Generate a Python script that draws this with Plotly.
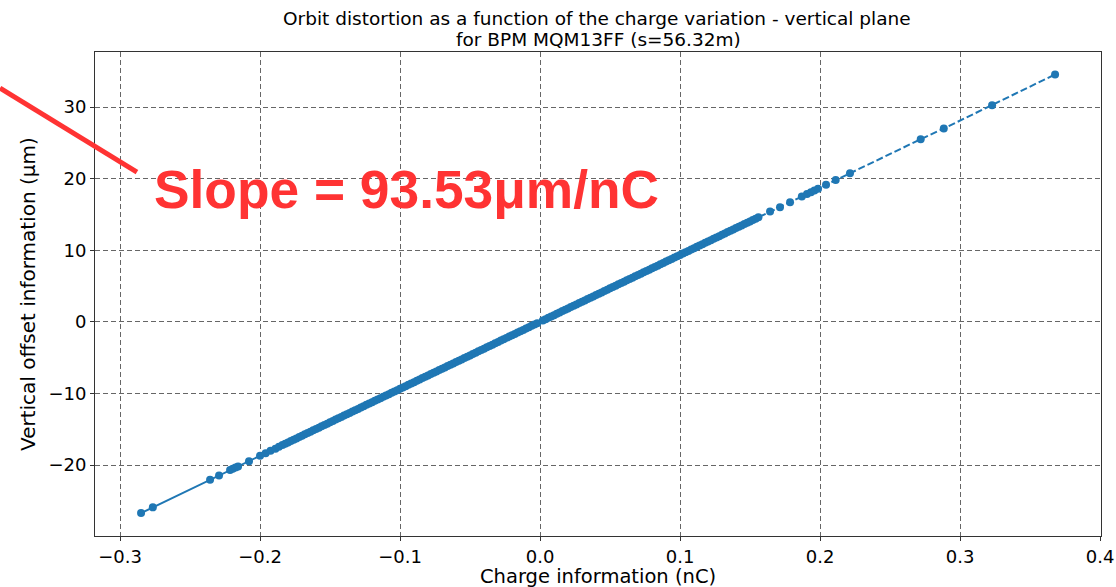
import plotly.graph_objects as go

# Negative charge side (solid line)
x_neg = [-0.285, -0.2766, -0.2357, -0.2293, -0.2214, -0.2195, -0.2175, -0.2157, -0.2079,
         -0.2000, -0.1960, -0.1925, -0.1890, -0.1865,
         -0.184, -0.182, -0.180, -0.178, -0.176, -0.174, -0.172, -0.170, -0.168, -0.166,
         -0.164, -0.162, -0.160, -0.158, -0.156, -0.154, -0.152, -0.150, -0.148, -0.146,
         -0.144, -0.142, -0.140, -0.138, -0.136, -0.134, -0.132, -0.130, -0.128, -0.126,
         -0.124, -0.122, -0.120, -0.118, -0.116, -0.114, -0.112, -0.110, -0.108, -0.106,
         -0.104, -0.102, -0.100, -0.098, -0.096, -0.094, -0.092, -0.090, -0.088, -0.086,
         -0.084, -0.082, -0.080, -0.078, -0.076, -0.074, -0.072, -0.070, -0.068, -0.066,
         -0.064, -0.062, -0.060, -0.058, -0.056, -0.054, -0.052, -0.050, -0.048, -0.046,
         -0.044, -0.042, -0.040, -0.038, -0.036, -0.034, -0.032, -0.030, -0.028, -0.026,
         -0.024, -0.022, -0.020, -0.018, -0.016, -0.014, -0.012, -0.010, -0.008, -0.006,
         -0.004, -0.002]
y_neg = [-26.7, -25.9, -22.05, -21.45, -20.7, -20.5, -20.35, -20.2, -19.45,
         -18.7, -18.35, -18.0, -17.7, -17.45,
         -17.20, -17.02, -16.83, -16.64, -16.46, -16.27, -16.08, -15.90, -15.71, -15.52,
         -15.33, -15.15, -14.96, -14.77, -14.59, -14.40, -14.21, -14.03, -13.84, -13.65,
         -13.46, -13.28, -13.09, -12.90, -12.72, -12.53, -12.34, -12.16, -11.97, -11.78,
         -11.59, -11.41, -11.22, -11.03, -10.85, -10.66, -10.47, -10.29, -10.10, -9.91,
         -9.72, -9.54, -9.35, -9.16, -8.98, -8.79, -8.60, -8.42, -8.23, -8.04,
         -7.85, -7.67, -7.48, -7.29, -7.11, -6.92, -6.73, -6.55, -6.36, -6.17,
         -5.98, -5.80, -5.61, -5.42, -5.24, -5.05, -4.86, -4.68, -4.49, -4.30,
         -4.11, -3.93, -3.74, -3.55, -3.37, -3.18, -2.99, -2.81, -2.62, -2.43,
         -2.24, -2.06, -1.87, -1.68, -1.50, -1.31, -1.12, -0.94, -0.75, -0.56,
         -0.37, -0.19]

# Positive charge side (dashed line)
x_pos = [0.002, 0.004, 0.006, 0.008, 0.010, 0.012, 0.014, 0.016, 0.018, 0.020,
         0.022, 0.024, 0.026, 0.028, 0.030, 0.032, 0.034, 0.036, 0.038, 0.040,
         0.042, 0.044, 0.046, 0.048, 0.050, 0.052, 0.054, 0.056, 0.058, 0.060,
         0.062, 0.064, 0.066, 0.068, 0.070, 0.072, 0.074, 0.076, 0.078, 0.080,
         0.082, 0.084, 0.086, 0.088, 0.090, 0.092, 0.094, 0.096, 0.098, 0.100,
         0.102, 0.104, 0.106, 0.108, 0.110, 0.112, 0.114, 0.116, 0.118, 0.120,
         0.122, 0.124, 0.126, 0.128, 0.130, 0.132, 0.134, 0.136, 0.138, 0.140,
         0.142, 0.144, 0.146, 0.148, 0.150, 0.152, 0.154, 0.156,
         0.1643, 0.1714, 0.1786, 0.187, 0.1907, 0.1935, 0.196, 0.1986, 0.2043,
         0.2112, 0.2214, 0.2719, 0.2884, 0.3229, 0.3679]
y_pos = [0.19, 0.37, 0.56, 0.75, 0.94, 1.12, 1.31, 1.50, 1.68, 1.87,
         2.06, 2.24, 2.43, 2.62, 2.81, 2.99, 3.18, 3.37, 3.55, 3.74,
         3.93, 4.11, 4.30, 4.49, 4.68, 4.86, 5.05, 5.24, 5.42, 5.61,
         5.80, 5.98, 6.17, 6.36, 6.55, 6.73, 6.92, 7.11, 7.29, 7.48,
         7.67, 7.85, 8.04, 8.23, 8.42, 8.60, 8.79, 8.98, 9.16, 9.35,
         9.54, 9.72, 9.91, 10.10, 10.29, 10.47, 10.66, 10.85, 11.03, 11.22,
         11.41, 11.59, 11.78, 11.97, 12.16, 12.34, 12.53, 12.72, 12.90, 13.09,
         13.28, 13.46, 13.65, 13.84, 14.03, 14.21, 14.40, 14.59,
         15.4, 16.0, 16.7, 17.5, 17.85, 18.1, 18.35, 18.6, 19.13,
         19.8, 20.75, 25.5, 27.0, 30.25, 34.55]

x_ticks = [-0.3, -0.2, -0.1, 0.0, 0.1, 0.2, 0.3, 0.4]
x_ticklabels = ["\u22120.3", "\u22120.2", "\u22120.1", "0.0", "0.1", "0.2", "0.3", "0.4"]
y_ticks = [-20, -10, 0, 10, 20, 30]
y_ticklabels = ["\u221220", "\u221210", "0", "10", "20", "30"]

title_line1 = "Orbit distortion as a function of the charge variation - vertical plane"
title_line2 = "for BPM MQM13FF (s=56.32m)"
x_title = "Charge information (nC)"
y_title = "Vertical offset information (\u03bcm)"
slope_text = "Slope = 93.53\u03bcm/nC"

C0 = "#1f77b4"
font_main = "DejaVu Sans"

fig = go.Figure()
fig.add_trace(go.Scatter(x=x_neg, y=y_neg, mode="lines+markers",
                         line=dict(color=C0, width=2),
                         marker=dict(color=C0, size=8), showlegend=False))
fig.add_trace(go.Scatter(x=x_pos, y=y_pos, mode="lines+markers",
                         line=dict(color=C0, width=2, dash="7px,3px"),
                         marker=dict(color=C0, size=8), showlegend=False))

axis_common = dict(
    showline=True, linecolor="#333333", linewidth=1, mirror=True,
    showgrid=True, gridcolor="rgba(0,0,0,0.6)", gridwidth=1, griddash="5px,3px",
    zeroline=False, ticks="outside", ticklen=4, tickcolor="#333333",
    tickfont=dict(family=font_main, size=18, color="black"),
    automargin=False,
)

fig.update_xaxes(range=[-0.3179, 0.4007], tickvals=x_ticks, ticktext=x_ticklabels,
                 **axis_common)
fig.update_yaxes(range=[-29.9, 37.68], tickvals=y_ticks, ticktext=y_ticklabels,
                 **axis_common)

fig.add_shape(type="line", xref="paper", yref="paper",
              x0=-0.0944, y0=0.9256, x1=0.0417, y1=0.752,
              line=dict(color="#ff3333", width=5))

fig.add_annotation(text=slope_text, xref="paper", yref="paper",
                   x=0.0567, y=0.715, xanchor="left", yanchor="middle",
                   showarrow=False,
                   font=dict(family="Liberation Sans", size=53.3, color="#ff3333",
                             weight="bold"))

# Titles
fig.add_annotation(text=title_line1, xref="paper", yref="paper",
                   x=0.4995, y=1.0702, xanchor="center", yanchor="middle",
                   showarrow=False, font=dict(family=font_main, size=18.5, color="black"))
fig.add_annotation(text=title_line2, xref="paper", yref="paper",
                   x=0.5, y=1.0248, xanchor="center", yanchor="middle",
                   showarrow=False, font=dict(family=font_main, size=18.5, color="black"))
fig.add_annotation(text=x_title, xref="paper", yref="paper",
                   x=0.5, y=-0.0837, xanchor="center", yanchor="middle",
                   showarrow=False, font=dict(family=font_main, size=19.5, color="black"))
fig.add_annotation(text=y_title, xref="paper", yref="paper",
                   x=-0.0666, y=0.5, xanchor="center", yanchor="middle", textangle=-90,
                   showarrow=False, font=dict(family=font_main, size=20, color="black"))

fig.update_layout(
    width=1116, height=587,
    margin=dict(l=95, r=15, t=52, b=51),
    paper_bgcolor="white", plot_bgcolor="white",
)

fig.write_html("out.html",
               post_script="document.body.style.margin='0';document.body.style.overflow='hidden';")
